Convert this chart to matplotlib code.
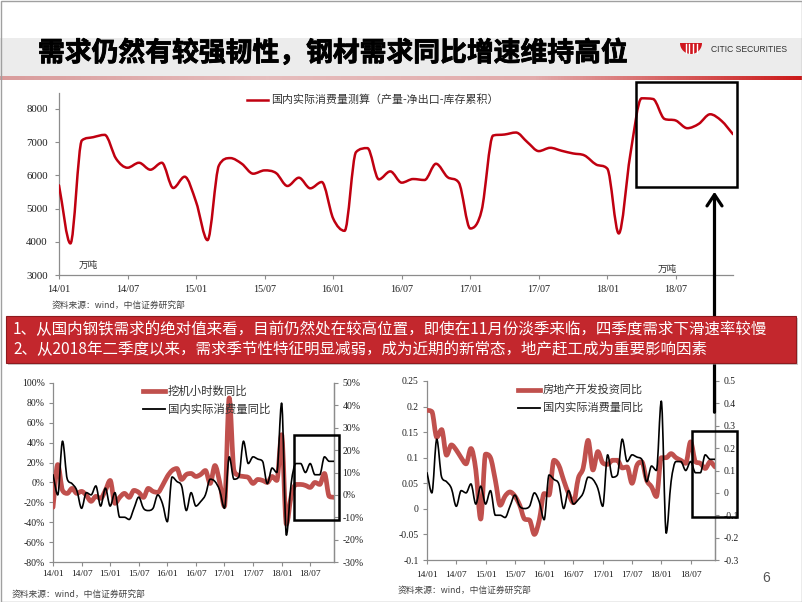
import matplotlib
matplotlib.use("Agg")
import matplotlib.pyplot as plt
import numpy as np
from matplotlib.path import Path
from matplotlib.patches import PathPatch, Rectangle, FancyArrowPatch, Polygon
from matplotlib.lines import Line2D
from matplotlib.colors import LinearSegmentedColormap
import matplotlib.patheffects as pe

# ---------------- data ----------------
months = list(range(60))  # 2014-01 ... 2018-12 (monthly index)
tick_pos = [0, 6, 12, 18, 24, 30, 36, 42, 48, 54]
tick_labels = ["14/01", "14/07", "15/01", "15/07", "16/01",
               "16/07", "17/01", "17/07", "18/01", "18/07"]

# 国内实际消费量测算 (万吨)
consumption = [5700, 3950, 7050, 7150, 7220, 6500, 6230, 6380, 6170, 6380,
               5620, 5960, 5200, 4050, 6300, 6520, 6350, 6050, 6150, 6070,
               5680, 5930, 5610, 5800, 4700, 4330, 6700, 6820, 5880, 6120,
               5780, 5890, 5860, 6350, 5950, 5780, 4400, 4950, 7200, 7230,
               7290, 7000, 6730, 6830, 6740, 6660, 6600, 6330, 6200, 4250,
               6600, 8320, 8300, 7700, 7650, 7420, 7550, 7840, 7640, 7240]

# 国内实际消费量同比 (%)
consumption_yoy = [9, 0, 24, 7, 5, 2, -6, 1, 0, 4,
                   -5, 3, -5, 1, -10, -10, -11, -6, -1, -6,
                   -7, -6, 0, -4, -12, 8, 6, 4, -7, 1,
                   -5, -3, 0, 7, 6, 2, -6, 17, 7, 8,
                   24, 14, 17, 16, 15, 5, 12, 10, 41, -18,
                   5, 14, 14, 10, 14, 9, 9, 17, 15, 15]

# 挖机小时数同比 (%)
excavator_yoy = [-25, 18, -8, -11, -6, -11, -9, -13, -19, -14,
                 -16, -8, 2, -21, -15, -11, -15, -8, -10, -15,
                 -6, -9, -10, -3, 6, 12, 14, 3, 8, 9,
                 6, 8, 12, -1, 17, 0, -24, 85, 12, 7,
                 6, 5, -1, 3, 2, 0, 6, 2, 48, -42,
                 -14, -2, -2, -3, -5, 0, -2, 9, -14, -15]

# 房地产开发投资同比
realestate_yoy = [0.193, 0.19, 0.14, 0.155, 0.105, 0.125, 0.115, 0.1, 0.088, 0.118,
                  0.076, -0.02, 0.107, 0.1, 0.056, 0.007, 0.025, 0.033, 0.025, 0.007,
                  -0.02, -0.022, -0.05, -0.022, 0.03, 0.027, 0.095, 0.085, 0.056, 0.03,
                  0.012, 0.06, 0.08, 0.134, 0.076, 0.112, 0.09, 0.087, 0.095, 0.095,
                  0.08, 0.082, 0.05, 0.085, 0.092, 0.056, 0.043, 0.024, 0.1, 0.1,
                  0.108, 0.1, 0.095, 0.089, 0.131, 0.092, 0.089, 0.079, 0.092, 0.082]

title = "需求仍然有较强韧性，钢材需求同比增速维持高位"
line1 = "1、从国内钢铁需求的绝对值来看，目前仍然处在较高位置，即使在11月份淡季来临，四季度需求下滑速率较慢"
line2 = "2、从2018年二季度以来，需求季节性特征明显减弱，成为近期的新常态，地产赶工成为重要影响因素"
source = "资料来源：wind，中信证券研究部"

# ---------------- style ----------------
CJK = ["Noto Sans CJK SC", "DejaVu Sans"]
SERIF = ["Liberation Serif", "DejaVu Serif"]
RED_TOP = "#C00010"
RED_THICK = "#C0504D"
SPINE = "#8C8C8C"
TXT = "#1E1E1E"

W, H = 802, 602
fig = plt.figure(figsize=(W / 100, H / 100), dpi=100)
fig.patch.set_facecolor("white")


def ax_px(l, t, r, b, **kw):
    return fig.add_axes([l / W, 1 - b / H, (r - l) / W, (b - t) / H], **kw)


def smooth_path(x, y):
    """Smoothed line (like a spreadsheet 'smoothed line') through every data point."""
    x = np.asarray(x, float)
    y = np.asarray(y, float)
    n = len(x)
    h = np.diff(x)
    d = np.diff(y) / h
    m = np.zeros(n)
    m[0], m[-1] = d[0], d[-1]
    for k in range(1, n - 1):
        if d[k - 1] * d[k] <= 0:
            m[k] = 0.0
        else:
            t = 0.5 * (d[k - 1] + d[k])
            lim = 3.0 * min(abs(d[k - 1]), abs(d[k]))
            m[k] = np.sign(t) * min(abs(t), lim)
    verts = [(x[0], y[0])]
    codes = [Path.MOVETO]
    for k in range(n - 1):
        c1 = (x[k] + h[k] / 3, y[k] + m[k] * h[k] / 3)
        c2 = (x[k + 1] - h[k] / 3, y[k + 1] - m[k + 1] * h[k] / 3)
        verts += [c1, c2, (x[k + 1], y[k + 1])]
        codes += [Path.CURVE4] * 3
    return Path(verts, codes)


def add_smooth(ax, x, y, color, lw, z=3):
    p = PathPatch(smooth_path(x, y), fill=False, edgecolor=color, lw=lw,
                  capstyle="round", joinstyle="round", zorder=z)
    ax.add_patch(p)


def style_axes(ax, left=True, right=False, fs=7):
    ax.patch.set_alpha(0)
    ax.spines["top"].set_visible(False)
    ax.spines["right"].set_visible(right)
    ax.spines["left"].set_visible(left)
    for s in ("left", "right", "bottom"):
        ax.spines[s].set_color(SPINE)
        ax.spines[s].set_linewidth(0.9)
    ax.tick_params(axis="both", direction="out", length=3, width=0.8,
                   color=SPINE, labelsize=fs, labelcolor=TXT, pad=3)


# ---------------- background (header) ----------------
bg = fig.add_axes([0, 0, 1, 1], zorder=-5)
bg.axis("off")
bg.add_patch(Rectangle((0, 38), W, 38, facecolor="#ECECEC", edgecolor="none"))
grad = np.linspace(0, 1, 256)[None, :]
cm_line = LinearSegmentedColormap.from_list("hl", ["#D99C9C", "#E6BDBD", "#E2ABAB", "#CC1A1A"])
bg.imshow(grad, cmap=cm_line, extent=(0, W, 80.5, 77), aspect="auto", zorder=1)
bg.set_xlim(0, W)
bg.set_ylim(H, 0)
bg.add_patch(Rectangle((0.5, 0.5), W - 1, H - 1, fill=False, edgecolor="#A0A0A0", lw=1.0))
bg.text(38, 53, title, fontsize=19.3, fontweight="bold", va="center", ha="left",
        family=CJK, color="black",
        path_effects=[pe.withStroke(linewidth=0.6, foreground="black")])
# logo
th = np.linspace(0, np.pi, 40)
cx, cy, r = 691, 43, 11
bowl = [(cx + r * np.cos(t), cy + r * np.sin(t)) for t in th]
bg.add_patch(Polygon(bowl, closed=True, facecolor="#D0161E", edgecolor="none"))
for dx in (-5.5, -1.9, 1.9, 5.5):
    bg.plot([cx + dx, cx + dx], [cy + 0.5, cy + 10], color="white", lw=1.0)
bg.text(711, 50, "CITIC SECURITIES", fontsize=6.2, va="center", ha="left",
        family=["Liberation Sans Narrow", "Liberation Sans"], color="#333333")

# ---------------- top chart ----------------
ax1 = ax_px(59, 93, 733, 275)
style_axes(ax1)
ax1.set_xlim(0, 59)
ax1.set_ylim(3000, 8480)
yt = [3000, 4000, 5000, 6000, 7000, 8000]
ax1.set_yticks(yt)
ax1.set_yticklabels([str(v) for v in yt], family=SERIF, fontsize=7.8)
ax1.set_xticks(tick_pos)
ax1.set_xticklabels(tick_labels, family=SERIF, fontsize=7.3)
ax1.tick_params(axis="y", pad=5)
ax1.tick_params(axis="x", pad=4)
add_smooth(ax1, months, consumption, RED_TOP, 1.8)

# ---------------- bottom-left chart ----------------
axL = ax_px(53, 383, 334, 562)
style_axes(axL, right=True)
axL.set_xlim(0, 59)
axL.set_ylim(-80, 100)
lt = list(range(-80, 101, 20))
axL.set_yticks(lt)
axL.set_yticklabels([f"{v}%" for v in lt], family=SERIF, fontsize=7)
axL.set_xticks(tick_pos)
axL.set_xticklabels(tick_labels, family=SERIF, fontsize=6.8)
add_smooth(axL, months, excavator_yoy, RED_THICK, 3.4)
axL2 = axL.twinx()
style_axes(axL2, left=False, right=True)
axL2.set_ylim(-30, 50)
rt = list(range(-30, 51, 10))
axL2.set_yticks(rt)
axL2.set_yticklabels([f"{v}%" for v in rt], family=SERIF, fontsize=7)
axL2.spines["bottom"].set_visible(False)
add_smooth(axL2, months, consumption_yoy, "black", 1.2, z=4)

# ---------------- bottom-right chart ----------------
axR = ax_px(427, 381, 715, 560)
style_axes(axR, right=True)
axR.set_xlim(0, 59)
axR.set_ylim(-0.1, 0.25)
rlt = [-0.1, -0.05, 0, 0.05, 0.1, 0.15, 0.2, 0.25]
axR.set_yticks(rlt)
axR.set_yticklabels(["-0.1", "-0.05", "0", "0.05", "0.1", "0.15", "0.2", "0.25"],
                    family=SERIF, fontsize=6.9)
axR.set_xticks(tick_pos)
axR.set_xticklabels(tick_labels, family=SERIF, fontsize=6.8)
axR.tick_params(axis="x", pad=5)
add_smooth(axR, months, realestate_yoy, RED_THICK, 3.4)
axR2 = axR.twinx()
style_axes(axR2, left=False, right=True)
axR2.set_ylim(-0.3, 0.5)
rrt = [-0.3, -0.2, -0.1, 0, 0.1, 0.2, 0.3, 0.4, 0.5]
axR2.set_yticks(rrt)
axR2.set_yticklabels(["-0.3", "-0.2", "-0.1", "0", "0.1", "0.2", "0.3", "0.4", "0.5"],
                     family=SERIF, fontsize=6.9)
axR2.spines["bottom"].set_visible(False)
add_smooth(axR2, months, [v / 100 for v in consumption_yoy], "black", 1.2, z=4)

# ---------------- overlay (legends, annotations, notes) ----------------
ov = fig.add_axes([0, 0, 1, 1], zorder=10)
ov.set_xlim(0, W)
ov.set_ylim(H, 0)
ov.axis("off")
ov.patch.set_alpha(0)

# legends
ov.add_line(Line2D([247, 268], [100, 100], color=RED_TOP, lw=1.8))
ov.text(271, 100, "国内实际消费量测算（产量-净出口-库存累积）", fontsize=7.9,
        va="center", ha="left", family=CJK, color="#333333")
ov.text(79, 265, "万吨", fontsize=6.9, va="center", ha="left", family=CJK, color="#333333")
ov.text(658, 269, "万吨", fontsize=6.9, va="center", ha="left", family=CJK, color="#333333")
ov.text(52, 305, source, fontsize=6.3, va="center", ha="left", family=CJK, color="#444444")

ov.add_line(Line2D([143, 165], [391, 391], color=RED_THICK, lw=3.4))
ov.text(168, 391, "挖机小时数同比", fontsize=8.2, va="center", ha="left", family=CJK, color="#333333")
ov.add_line(Line2D([143, 165], [409, 409], color="black", lw=1.3))
ov.text(168, 409, "国内实际消费量同比", fontsize=8.2, va="center", ha="left", family=CJK, color="#333333")

ov.add_line(Line2D([518, 540], [390, 390], color=RED_THICK, lw=3.4))
ov.text(543, 390, "房地产开发投资同比", fontsize=8.0, va="center", ha="left", family=CJK, color="#333333")
ov.add_line(Line2D([518, 540], [408, 408], color="black", lw=1.3))
ov.text(543, 408, "国内实际消费量同比", fontsize=8.0, va="center", ha="left", family=CJK, color="#333333")

ov.text(12, 594, source, fontsize=6.3, va="center", ha="left", family=CJK, color="#444444")
ov.text(398, 590, source, fontsize=6.3, va="center", ha="left", family=CJK, color="#444444")
ov.text(762, 578, "6", fontsize=10, va="center", ha="left", family=["Liberation Sans"], color="#555555")

# highlight boxes
for (x0, y0, x1, y1) in [(636, 82, 737, 187), (294, 435, 339, 520), (692, 431, 737, 517)]:
    ov.add_patch(Rectangle((x0, y0), x1 - x0, y1 - y0, fill=False, edgecolor="black",
                           lw=1.8, zorder=4))
# arrow
ov.add_patch(FancyArrowPatch((714.5, 415), (714.5, 189),
                             arrowstyle="->,head_length=0.45,head_width=0.3",
                             mutation_scale=18, lw=2.3, color="black", zorder=3))

# red text box
ov.add_patch(Rectangle((8, 318), 790, 47, facecolor="#9A9A9A", edgecolor="none", alpha=0.5, zorder=5))
ov.add_patch(Rectangle((6, 316), 790, 47, facecolor="#C3272D", edgecolor="#8E1A1E", lw=0.8, zorder=6))
ov.text(13, 329.5, line1, fontsize=11.2, va="center", ha="left", family=CJK, color="white", zorder=7)
ov.text(13, 350, line2, fontsize=11.2, va="center", ha="left", family=CJK, color="white", zorder=7)

fig.savefig("out.png", dpi=100)
